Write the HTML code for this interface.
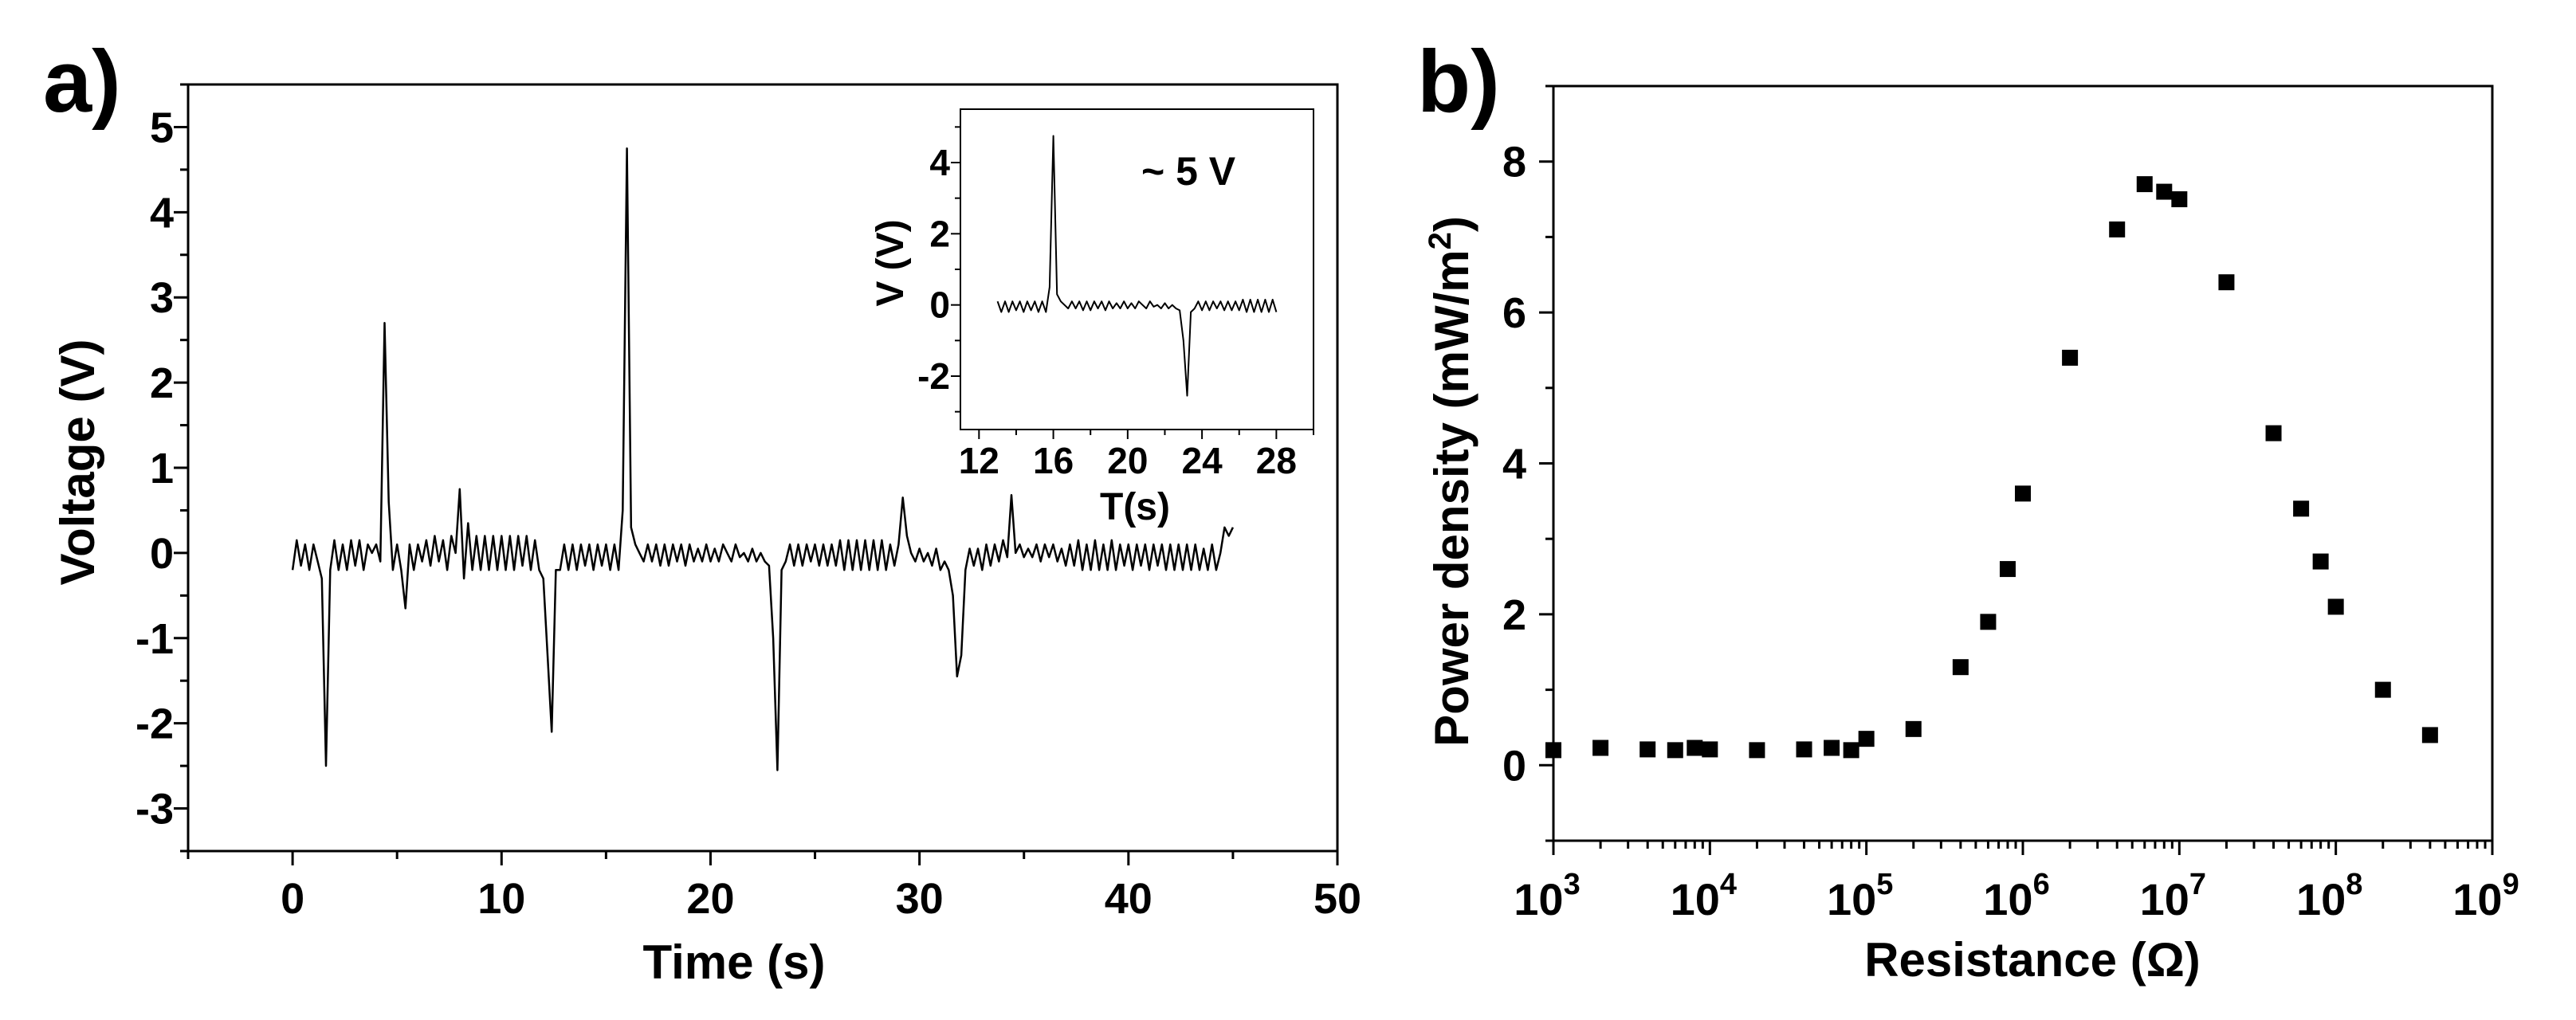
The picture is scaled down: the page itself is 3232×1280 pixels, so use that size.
<!DOCTYPE html>
<html><head><meta charset="utf-8"><style>
html,body{margin:0;padding:0;background:#fff;}
svg{display:block;}
text{font-family:"Liberation Sans Narrow","Liberation Sans",Arial,sans-serif;font-weight:bold;fill:#000;}
</style></head><body>
<svg id="fig" width="3232" height="1280" viewBox="0 0 3232 1280" xmlns="http://www.w3.org/2000/svg">
<text x="54" y="140" font-size="110" style="font-family:'Liberation Sans',sans-serif">a)</text>
<text x="1778" y="140" font-size="110" style="font-family:'Liberation Sans',sans-serif">b)</text>
<g id="ga"></g>
<g id="gi"></g>
<g id="gb"></g>
</svg>
<script>
const vStep = 0.2;
const voltage = [
-0.2,0.15,-0.15,0.1,-0.2,0.1,-0.1,-0.3,-2.5,-0.2,
0.15,-0.2,0.1,-0.2,0.15,-0.15,0.15,-0.2,0.1,0.0,
0.1,-0.1,2.7,0.6,-0.2,0.1,-0.2,-0.65,0.1,-0.2,
0.1,-0.1,0.15,-0.15,0.2,-0.1,0.15,-0.2,0.2,0.0,
0.75,-0.3,0.35,-0.2,0.2,-0.2,0.2,-0.2,0.2,-0.2,
0.2,-0.2,0.2,-0.2,0.2,-0.15,0.2,-0.2,0.15,-0.2,
-0.3,-1.2,-2.1,-0.2,-0.2,0.1,-0.2,0.1,-0.2,0.1,
-0.15,0.1,-0.2,0.1,-0.15,0.1,-0.2,0.1,-0.2,0.5,
4.75,0.3,0.1,0.0,-0.1,0.1,-0.1,0.1,-0.15,0.1,
-0.15,0.1,-0.1,0.1,-0.15,0.1,-0.1,0.05,-0.1,0.1,
-0.1,0.05,-0.1,0.1,0.0,-0.1,0.1,-0.05,0.0,-0.1,
0.05,-0.1,0.0,-0.1,-0.15,-1.0,-2.55,-0.2,-0.1,0.1,
-0.15,0.1,-0.15,0.1,-0.1,0.1,-0.15,0.1,-0.15,0.1,
-0.15,0.15,-0.2,0.15,-0.2,0.15,-0.2,0.15,-0.2,0.15,
-0.2,0.15,-0.2,0.1,-0.15,0.1,0.65,0.2,0.0,-0.1,
0.05,-0.1,0.0,-0.15,0.05,-0.2,-0.1,-0.2,-0.5,-1.45,
-1.2,-0.2,0.05,-0.15,0.05,-0.2,0.1,-0.15,0.1,-0.1,
0.15,-0.05,0.68,0.0,0.1,-0.05,0.05,-0.05,0.1,-0.1,
0.1,-0.05,0.1,-0.1,0.05,-0.15,0.1,-0.15,0.15,-0.2,
0.1,-0.2,0.15,-0.2,0.1,-0.2,0.15,-0.2,0.1,-0.15,
0.1,-0.2,0.1,-0.15,0.1,-0.2,0.1,-0.15,0.1,-0.2,
0.1,-0.2,0.1,-0.2,0.1,-0.2,0.1,-0.2,0.05,-0.2,
0.1,-0.2,0.0,0.3,0.2,0.3];
const aXTicks = [0,10,20,30,40,50];
const aYTicks = [-3,-2,-1,0,1,2,3,4,5];
const iXTicks = [12,16,20,24,28];
const iYTicks = [-2,0,2,4];
const resistance = [1e3,2e3,4e3,6e3,8e3,1e4,2e4,4e4,6e4,8e4,1e5,2e5,4e5,6e5,8e5,1e6,2e6,4e6,6e6,8e6,1e7,2e7,4e7,6e7,8e7,1e8,2e8,4e8];
const power = [0.2,0.23,0.21,0.2,0.23,0.21,0.2,0.21,0.23,0.2,0.35,0.48,1.3,1.9,2.6,3.6,5.4,7.1,7.7,7.6,7.5,6.4,4.4,3.4,2.7,2.1,1.0,0.4];
const bXExp = [3,4,5,6,7,8,9];
const bYTicks = [0,2,4,6,8];

const NS="http://www.w3.org/2000/svg";
function mk(parent,tag,attrs){const e=document.createElementNS(NS,tag);for(const k in attrs)e.setAttribute(k,attrs[k]);parent.appendChild(e);return e;}
function lin(d0,d1,r0,r1){return v=>r0+(v-d0)*(r1-r0)/(d1-d0);}

// Panel a
(function(){
const g=document.getElementById('ga');
const L=236,R=1678,T=106,B=1068;
const x=lin(-5,50,L,R), y=lin(-3.5,5.5,B,T);
const fr=mk(g,'rect',{x:L,y:T,width:R-L,height:B-T,fill:'none',stroke:'#000','stroke-width':3});

for(let v=-5;v<=50;v+=5){const maj=v%10===0;mk(g,'line',{x1:x(v),x2:x(v),y1:B,y2:B+(maj?18:10),stroke:'#000','stroke-width':3});}
for(let v=-3.5;v<=5.5;v+=0.5){const maj=Math.abs(v-Math.round(v))<1e-6;mk(g,'line',{x1:L,x2:L-(maj?18:10),y1:y(v),y2:y(v),stroke:'#000','stroke-width':3});}
aXTicks.forEach(v=>{const t=mk(g,'text',{x:x(v),y:1146,'font-size':54,'text-anchor':'middle'});t.textContent=v;
});
aYTicks.forEach(v=>{const t=mk(g,'text',{x:218,y:y(v)+19,'font-size':54,'text-anchor':'end'});t.textContent=v;
});
let d='';voltage.forEach((v,i)=>{d+=(i?'L':'M')+x(i*vStep).toFixed(1)+','+y(v).toFixed(1);});
const p=mk(g,'path',{d:d,fill:'none',stroke:'#000','stroke-width':2.5,'stroke-linejoin':'round'});

const xt=mk(g,'text',{x:921,y:1228,'font-size':60,'text-anchor':'middle'});xt.textContent='Time (s)';

const yt=mk(g,'text',{x:0,y:0,'font-size':60,'text-anchor':'middle',transform:'translate(118,580) rotate(-90)'});yt.textContent='Voltage (V)';

})();

// Inset
(function(){
const g=document.getElementById('gi');
const L=1205,R=1648,T=137,B=539;
const x=lin(11,30,L,R), y=lin(-3.5,5.5,B,T);
mk(g,'rect',{x:L,y:T,width:R-L,height:B-T,fill:'#fff',stroke:'#000','stroke-width':2});
for(let v=12;v<=30;v+=2){const maj=v%4===0;mk(g,'line',{x1:x(v),x2:x(v),y1:B,y2:B+(maj?12:7),stroke:'#000','stroke-width':2});}
for(let v=-3;v<=5;v+=1){const maj=v%2===0;mk(g,'line',{x1:L,x2:L-(maj?12:7),y1:y(v),y2:y(v),stroke:'#000','stroke-width':2});}
iXTicks.forEach(v=>{const t=mk(g,'text',{x:x(v),y:594,'font-size':46,'text-anchor':'middle'});t.textContent=v;
});
iYTicks.forEach(v=>{const t=mk(g,'text',{x:1192,y:y(v)+16,'font-size':46,'text-anchor':'end'});t.textContent=v;
});
let d='',first=true;voltage.forEach((v,i)=>{const t=i*vStep;if(t<13-1e-6||t>28+1e-6)return;d+=(first?'M':'L')+x(t).toFixed(1)+','+y(v).toFixed(1);first=false;});
const p=mk(g,'path',{d:d,fill:'none',stroke:'#000','stroke-width':2,'stroke-linejoin':'round'});

const xt=mk(g,'text',{x:1424,y:652,'font-size':48,'text-anchor':'middle'});xt.textContent='T(s)';

const yt=mk(g,'text',{x:0,y:0,'font-size':48,'text-anchor':'middle',transform:'translate(1133,330) rotate(-90)'});yt.textContent='V (V)';

const an=mk(g,'text',{x:1432,y:232,'font-size':50});an.textContent='~ 5 V';

})();

// Panel b
(function(){
const g=document.getElementById('gb');
const L=1949,R=3127,T=108,B=1055;
const lx=lin(3,9,L,R), x=v=>lx(Math.log10(v)), y=lin(-1,9,B,T);
mk(g,'rect',{x:L,y:T,width:R-L,height:B-T,fill:'none',stroke:'#000','stroke-width':3});
for(let e=3;e<=9;e++){mk(g,'line',{x1:lx(e),x2:lx(e),y1:B,y2:B+18,stroke:'#000','stroke-width':3});
 if(e<9)for(let m=2;m<=9;m++){const xx=lx(e+Math.log10(m));mk(g,'line',{x1:xx,x2:xx,y1:B,y2:B+10,stroke:'#000','stroke-width':3});}}
for(let v=-1;v<=9;v+=1){const maj=v%2===0;mk(g,'line',{x1:L,x2:L-(maj?18:10),y1:y(v),y2:y(v),stroke:'#000','stroke-width':3});}
bXExp.forEach(e=>{const t=mk(g,'text',{x:lx(e)-8,y:1148,'font-size':56,'text-anchor':'middle'});
 t.textContent='10';const s=mk(t,'tspan',{dy:-26,'font-size':38});s.textContent=e;
 });
bYTicks.forEach(v=>{const t=mk(g,'text',{x:1915,y:y(v)+19,'font-size':54,'text-anchor':'end'});t.textContent=v;
});
resistance.forEach((r,i)=>{const s=mk(g,'rect',{x:x(r)-10,y:y(power[i])-10,width:20,height:20,fill:'#000'});
});
const xt=mk(g,'text',{x:2550,y:1225,'font-size':60,'text-anchor':'middle'});xt.textContent='Resistance (Ω)';

const yt=mk(g,'text',{x:0,y:0,'font-size':60,'text-anchor':'middle',transform:'translate(1842,604) rotate(-90)'});
yt.textContent='Power density (mW/m';const s=mk(yt,'tspan',{dy:-22,'font-size':40});s.textContent='2';
const s2=mk(yt,'tspan',{dy:22});s2.textContent=')';

})();
</script>
</body></html>
